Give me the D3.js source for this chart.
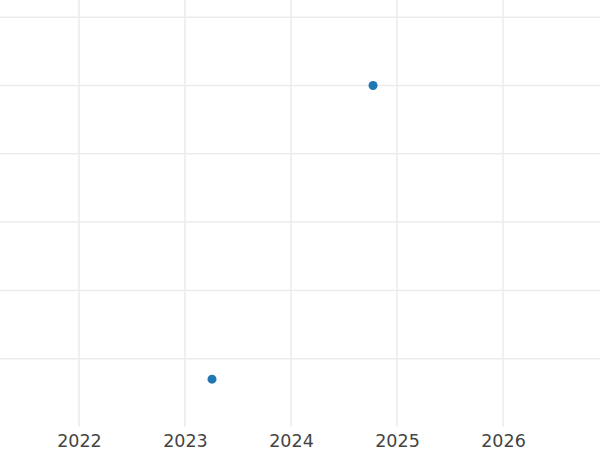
<!DOCTYPE html>
<html>
<head>
<meta charset="utf-8">
<script src="https://cdn.jsdelivr.net/npm/d3@7"></script>
<style>
  body { margin: 0; background: #fff; }
</style>
</head>
<body>
<div id="canvas"></div>
<script>
"use strict"

// data (x = decimal year, y = unlabeled value)
let years = [2023.255, 2024.774];
let values = [-0.3, 4];
let xTicks = [2022, 2023, 2024, 2025, 2026];
let yTicks = [0, 1, 2, 3, 4, 5];

let width = 600;
let height = 450;

let drawing = d3.select("#canvas")
    .append("svg")
    .attr("width", width)
    .attr("height", height);

let x = d3.scaleLinear()
    .domain([2021.255, 2026.915])
    .range([0, width]);

let y = d3.scaleLinear()
    .domain([-1, 5])
    .range([427, 17.2]);

/* vertical grid lines */
drawing.append("g")
    .selectAll("line")
    .data(xTicks)
    .join("line")
    .attr("x1", d => x(d))
    .attr("x2", d => x(d))
    .attr("y1", 0)
    .attr("y2", 427)
    .attr("stroke", "#ebebeb")
    .attr("stroke-width", 1.5);

/* horizontal grid lines */
drawing.append("g")
    .selectAll("line")
    .data(yTicks)
    .join("line")
    .attr("x1", 0)
    .attr("x2", width)
    .attr("y1", d => y(d))
    .attr("y2", d => y(d))
    .attr("stroke", "#ebebeb")
    .attr("stroke-width", 1.5);

/* x axis labels */
let xAxis = drawing.append("g")
    .attr("transform", "translate(0,432)")
    .call(d3.axisBottom(x).tickValues(xTicks).tickFormat(d3.format("d")).tickSize(0).tickPadding(3));
xAxis.select(".domain").remove();
xAxis.selectAll("text")
    .style("font-family", "'DejaVu Sans', sans-serif")
    .style("font-size", "17.5px")
    .attr("fill", "#444");

/* points */
drawing.append("g")
    .selectAll("circle")
    .data(years)
    .join("circle")
    .attr("cx", d => x(d))
    .attr("cy", (d, i) => y(values[i]))
    .attr("r", 4.5)
    .attr("fill", "#1f77b4");
</script>
</body>
</html>
